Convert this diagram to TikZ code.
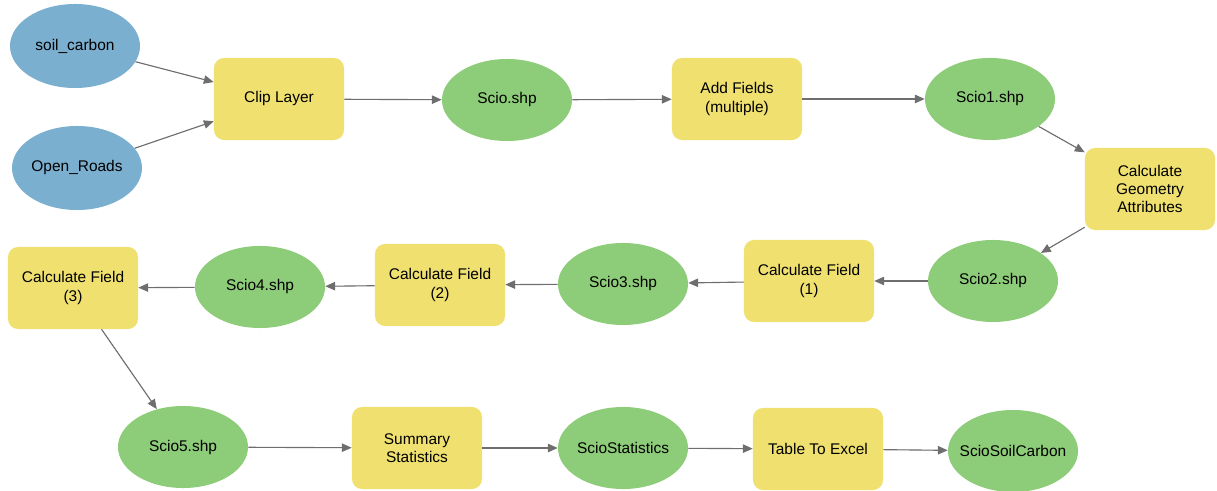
\documentclass[tikz,border=0pt]{standalone}
\usepackage{fontspec}
\setmainfont{Liberation Sans}
\usetikzlibrary{shapes,arrows.meta,positioning}

\definecolor{datablue}{HTML}{7BAFD0}
\definecolor{datagreen}{HTML}{8DCC78}
\definecolor{toolyellow}{HTML}{EFE070}
\definecolor{linkgray}{HTML}{6E6E6E}

\tikzset{
  input/.style={ellipse, fill=datablue, minimum width=3.25cm, minimum height=2.1cm, inner sep=0pt},
  output/.style={ellipse, fill=datagreen, minimum width=3.25cm, minimum height=2.05cm, inner ysep=0pt, inner xsep=-1.2em},
  tool/.style={rounded corners=0.25cm, fill=toolyellow, minimum width=3.25cm, minimum height=2.05cm, align=center, inner sep=0pt},
  link/.style={draw=linkgray, line width=0.8pt, -{Triangle[length=7pt,width=6pt]}, fill=linkgray}
}

\begin{document}
\begin{tikzpicture}[x=0.025cm, y=-0.025cm, font=\fontsize{11}{13}\selectfont]
            \useasboundingbox (0,0) rectangle (1217,491);

            % first row
            \node (soil) [input] at (75,46) {soil\_carbon};
            \node (roads) [input] at (77,168) {Open\_Roads};
            \node (clip) [tool] at (279,99) {Clip Layer};
            \node (scio) [output] at (507,100) {Scio.shp};
            \node (addfields) [tool] at (737,99) {Add Fields\\(multiple)};
            \node (scio1) [output] at (990,99) {Scio1.shp};
            \node (geometry) [tool] at (1150,189) {Calculate\\Geometry\\Attributes};

            % second row
            \node (scio2) [output] at (993,281) {Scio2.shp};
            \node (calc1) [tool] at (809,281) {Calculate Field\\(1)};
            \node (scio3) [output] at (623,284) {Scio3.shp};
            \node (calc2) [tool] at (440,285) {Calculate Field\\(2)};
            \node (scio4) [output] at (260,287) {Scio4.shp};
            \node (calc3) [tool] at (73,288) {Calculate Field\\(3)};

            % third row
            \node (scio5) [output] at (183,447) {Scio5.shp};
            \node (summary) [tool] at (417,448) {Summary\\Statistics};
            \node (stats) [output] at (623,448) {ScioStatistics};
            \node (excel) [tool] at (818,449) {Table To Excel};
            \node (carbon) [output] at (1013,451) {ScioSoilCarbon};

            \draw [link] (soil) -- (clip);
            \draw [link] (roads) -- (clip);
            \draw [link] (clip) -- (scio);
            \draw [link] (scio) -- (addfields);
            \draw [link] (addfields) -- (scio1);
            \draw [link] (scio1) -- (geometry);
            \draw [link] (geometry) -- (scio2);
            \draw [link] (scio2) -- (calc1);
            \draw [link] (calc1) -- (scio3);
            \draw [link] (scio3) -- (calc2);
            \draw [link] (calc2) -- (scio4);
            \draw [link] (scio4) -- (calc3);
            \draw [link] (calc3) -- (scio5);
            \draw [link] (scio5) -- (summary);
            \draw [link] (summary) -- (stats);
            \draw [link] (stats) -- (excel);
            \draw [link] (excel) -- (carbon);
        \end{tikzpicture}
\end{document}
